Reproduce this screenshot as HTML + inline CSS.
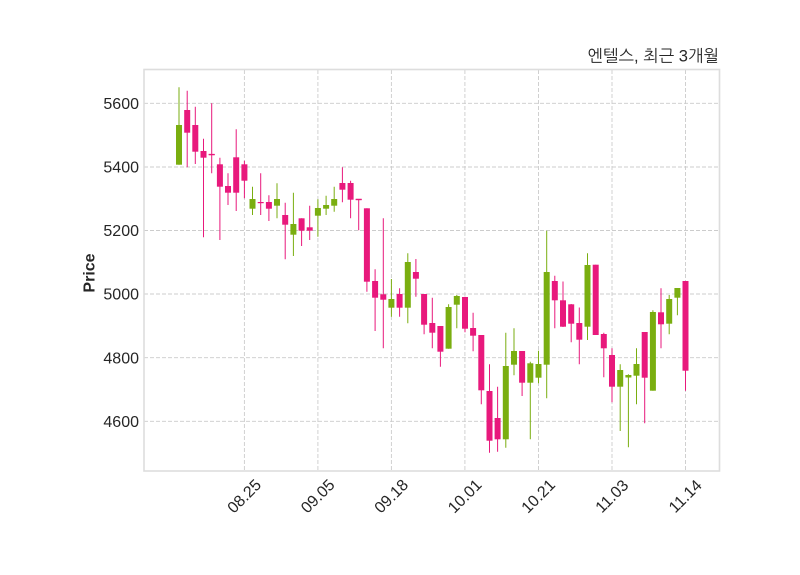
<!DOCTYPE html>
<html><head><meta charset="utf-8"><style>
html,body{margin:0;padding:0;background:#fff;}
svg{display:block;}
</style></head><body>
<svg width="800" height="575" viewBox="0 0 800 575" xmlns="http://www.w3.org/2000/svg">
<rect x="0" y="0" width="800" height="575" fill="#fff"/>
<g stroke="#cccccc" stroke-width="0.9" stroke-dasharray="4,2" fill="none">
<line x1="144" y1="103.3" x2="719" y2="103.3"/>
<line x1="144" y1="167" x2="719" y2="167"/>
<line x1="144" y1="230.5" x2="719" y2="230.5"/>
<line x1="144" y1="294" x2="719" y2="294"/>
<line x1="144" y1="357.7" x2="719" y2="357.7"/>
<line x1="144" y1="421.3" x2="719" y2="421.3"/>
<line x1="244.4" y1="70" x2="244.4" y2="470"/>
<line x1="317.9" y1="70" x2="317.9" y2="470"/>
<line x1="391.4" y1="70" x2="391.4" y2="470"/>
<line x1="464.9" y1="70" x2="464.9" y2="470"/>
<line x1="538.5" y1="70" x2="538.5" y2="470"/>
<line x1="612" y1="70" x2="612" y2="470"/>
<line x1="685.5" y1="70" x2="685.5" y2="470"/>
</g>
<rect x="144" y="69.5" width="575.5" height="401.5" fill="none" stroke="#dddddd" stroke-width="1.6"/>
<g stroke="#7aae10" stroke-width="1" fill="none">
<path d="M179 87.3V164.7 M252.5 186.7V215 M277 183.3V218.3 M293.4 192.7V256 M317.9 199.3V236.7 M326.1 195.7V215 M334.2 186.7V211.7 M391.4 279V316.7 M407.8 253.3V323.3 M448.6 304.3V348.7 M456.8 295V328.3 M505.8 332.7V447.7 M514 328.3V375.3 M530.3 361.7V439.3 M538.5 350.7V383.3 M546.7 230.7V398.3 M587.5 253.3V340 M620.2 364.3V431 M628.4 374.3V447.3 M636.5 348.3V404.3 M652.9 310.3V390.7 M669.2 295V334.3 M677.4 288V315.3"/>
</g>
<g fill="#7aae10">
<rect x="176" y="125" width="6" height="39.7"/>
<rect x="249.5" y="199" width="6" height="9.7"/>
<rect x="274" y="199" width="6" height="6.7"/>
<rect x="290.4" y="224" width="6" height="10.7"/>
<rect x="314.9" y="208" width="6" height="7.7"/>
<rect x="323.1" y="205" width="6" height="3.7"/>
<rect x="331.2" y="199" width="6" height="6.7"/>
<rect x="388.4" y="299" width="6" height="8.7"/>
<rect x="404.8" y="262" width="6" height="45.7"/>
<rect x="445.6" y="307" width="6" height="41.7"/>
<rect x="453.8" y="296" width="6" height="8.7"/>
<rect x="502.8" y="366" width="6" height="73.3"/>
<rect x="511" y="351" width="6" height="13.7"/>
<rect x="527.3" y="363.3" width="6" height="19.4"/>
<rect x="535.5" y="364" width="6" height="13.7"/>
<rect x="543.7" y="272" width="6" height="92.7"/>
<rect x="584.5" y="265" width="6" height="61.7"/>
<rect x="617.2" y="370" width="6" height="16.7"/>
<rect x="625.4" y="375" width="6" height="2.5"/>
<rect x="633.5" y="364" width="6" height="11.7"/>
<rect x="649.9" y="312" width="6" height="78.7"/>
<rect x="666.2" y="299" width="6" height="24.7"/>
<rect x="674.4" y="288" width="6" height="9.7"/>
</g>
<g stroke="#e8197c" stroke-width="1" fill="none">
<path d="M187.2 90.7V167.3 M195.3 106.7V164 M203.5 138.7V237.3 M211.7 103.3V173.3 M219.9 157.7V240 M228 173.3V205 M236.2 129.3V211 M244.4 160.7V198.3 M260.7 173.3V215 M268.9 195.3V221 M285.2 202.7V259.3 M301.6 218.3V246 M309.7 205.7V240 M342.4 167.3V202.3 M350.6 180.7V218.3 M358.7 199V230.3 M366.9 208.3V291.7 M375.1 269.3V331 M383.3 218.3V348.3 M399.6 288.3V316.7 M415.9 259V296.7 M424.1 294V334.3 M432.3 297.7V348.3 M440.4 326V366.7 M465 296.7V332.3 M473.1 312.7V351.3 M481.3 335V404.3 M489.5 364.3V452.7 M497.6 386.7V451.7 M522.1 351V396 M554.8 275.7V328.3 M563 281.5V327 M571.2 304V342.3 M579.3 307.5V364.2 M595.7 264.7V335 M603.8 332.7V377.3 M612 348.3V402.3 M644.7 332V423.3 M661 288.3V348.3 M685.5 281V390.7"/>
<path d="M208.7 154.5H214.7 M355.7 199.3H361.7" stroke-width="1.2"/>
</g>
<g fill="#e8197c">
<rect x="184.2" y="110" width="6" height="22.7"/>
<rect x="192.3" y="125" width="6" height="26.7"/>
<rect x="200.5" y="151" width="6" height="6.7"/>
<rect x="208.7" y="154" width="6" height="1.2"/>
<rect x="216.9" y="164.3" width="6" height="22.4"/>
<rect x="225" y="186" width="6" height="6.7"/>
<rect x="233.2" y="157.3" width="6" height="35.4"/>
<rect x="241.4" y="164.3" width="6" height="16.4"/>
<rect x="257.7" y="202" width="6" height="1.2"/>
<rect x="265.9" y="202" width="6" height="6.7"/>
<rect x="282.2" y="215" width="6" height="9.7"/>
<rect x="298.6" y="218.3" width="6" height="12.4"/>
<rect x="306.7" y="227.3" width="6" height="3.4"/>
<rect x="339.4" y="183" width="6" height="6.7"/>
<rect x="347.6" y="183" width="6" height="16.7"/>
<rect x="355.7" y="199" width="6" height="1.2"/>
<rect x="363.9" y="208.3" width="6" height="73.4"/>
<rect x="372.1" y="281" width="6" height="16.7"/>
<rect x="380.3" y="294.3" width="6" height="5.4"/>
<rect x="396.6" y="294" width="6" height="13.7"/>
<rect x="412.9" y="272" width="6" height="6.7"/>
<rect x="421.1" y="294" width="6" height="30.7"/>
<rect x="429.3" y="323" width="6" height="9.7"/>
<rect x="437.4" y="326" width="6" height="25.7"/>
<rect x="462" y="297" width="6" height="31.7"/>
<rect x="470.1" y="328" width="6" height="7.7"/>
<rect x="478.3" y="335" width="6" height="55.3"/>
<rect x="486.5" y="391" width="6" height="49.7"/>
<rect x="494.6" y="418" width="6" height="21.3"/>
<rect x="519.1" y="351" width="6" height="31.7"/>
<rect x="551.8" y="281" width="6" height="19.3"/>
<rect x="560" y="300.3" width="6" height="26.4"/>
<rect x="568.2" y="304.3" width="6" height="19.4"/>
<rect x="576.3" y="323" width="6" height="16.7"/>
<rect x="592.7" y="264.7" width="6" height="70.3"/>
<rect x="600.8" y="334" width="6" height="14.3"/>
<rect x="609" y="355" width="6" height="31.7"/>
<rect x="641.7" y="332" width="6" height="45.7"/>
<rect x="658" y="312.3" width="6" height="12"/>
<rect x="682.5" y="281" width="6" height="89.7"/>
</g>
<g font-family="'Liberation Sans', Arial, sans-serif" font-size="16" fill="#262626" text-anchor="end">
<text x="139" y="109">5600</text>
<text x="139" y="172.7">5400</text>
<text x="139" y="236.2">5200</text>
<text x="139" y="299.7">5000</text>
<text x="139" y="363.4">4800</text>
<text x="139" y="427">4600</text>
</g>
<g font-family="'Liberation Sans', Arial, sans-serif" font-size="16" fill="#262626" text-anchor="middle">
<text transform="translate(244,496) rotate(-45)" y="5.7">08.25</text>
<text transform="translate(317.5,496) rotate(-45)" y="5.7">09.05</text>
<text transform="translate(391,496) rotate(-45)" y="5.7">09.18</text>
<text transform="translate(464.5,496) rotate(-45)" y="5.7">10.01</text>
<text transform="translate(538,496) rotate(-45)" y="5.7">10.21</text>
<text transform="translate(611.6,496) rotate(-45)" y="5.7">11.03</text>
<text transform="translate(685,496) rotate(-45)" y="5.7">11.14</text>
</g>
<text transform="translate(89,273) rotate(-90)" y="5.5" text-anchor="middle" font-family="'Liberation Sans', Arial, sans-serif" font-size="16" font-weight="bold" fill="#262626">Price</text>
<text x="719" y="61.5" text-anchor="end" font-family="'Liberation Sans', 'NanumGothic', 'Noto Sans CJK KR', sans-serif" font-size="16.5" fill="#262626">엔텔스, 최근 3개월</text>
</svg>
</body></html>
